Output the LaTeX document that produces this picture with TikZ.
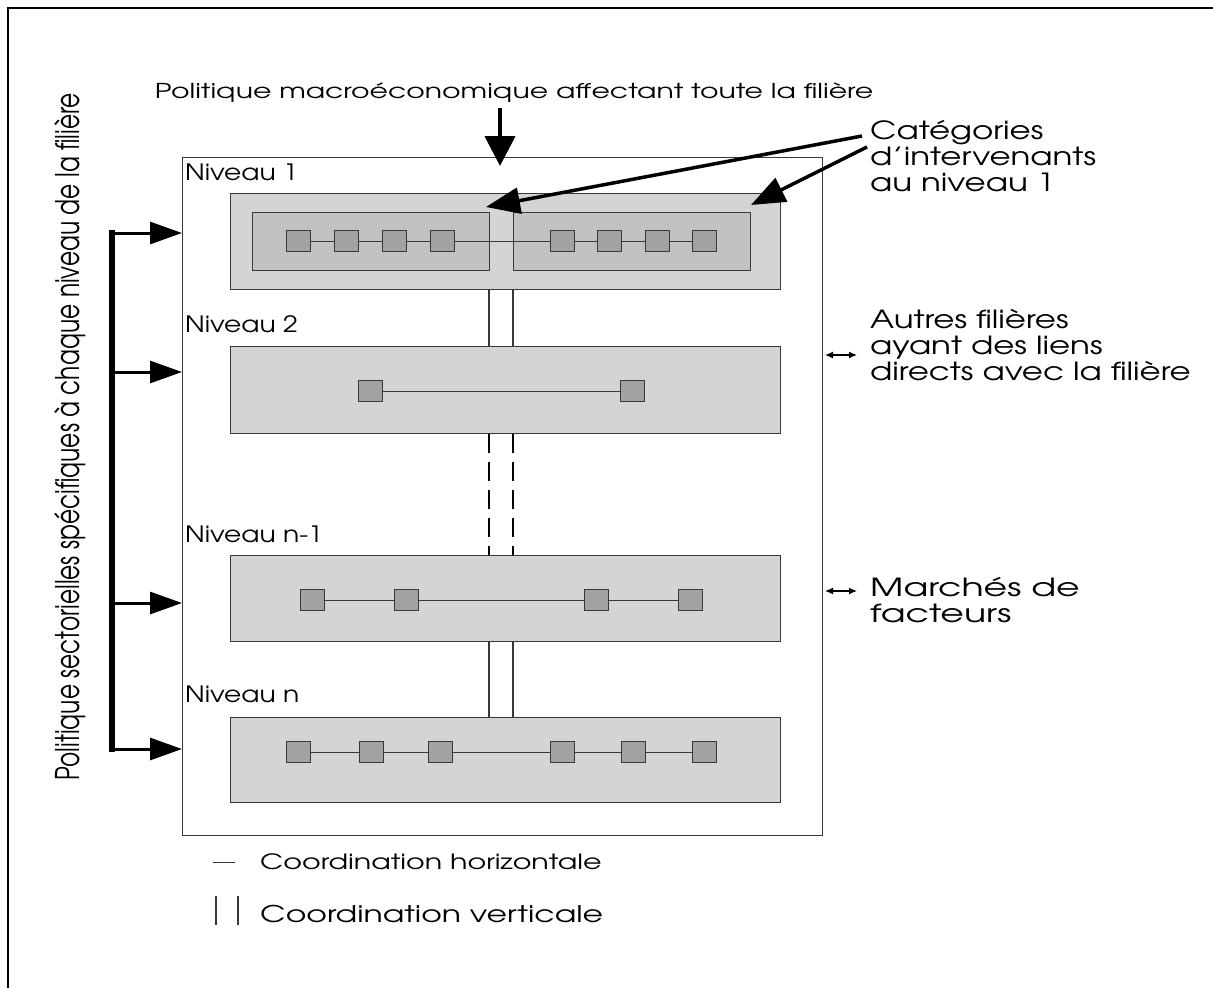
\documentclass[tikz,border=0pt]{standalone}
\usepackage{fontspec}
\setmainfont{TeX Gyre Adventor}
\usetikzlibrary{arrows.meta}
\definecolor{boxfill}{HTML}{D4D4D4}
\definecolor{innerfill}{HTML}{C2C2C2}
\definecolor{sqfill}{HTML}{A2A2A2}
\definecolor{edge}{HTML}{383838}
\newcommand{\wide}[2]{\scalebox{#1}[1]{#2}}
\begin{document}
\begin{tikzpicture}[x=1pt,y=-1pt,
  lvl/.style={draw=edge, line width=1pt, fill=boxfill, minimum width=550pt, inner sep=0pt, anchor=north west},
  inbox/.style={draw=edge, line width=1pt, fill=innerfill, minimum width=237pt, minimum height=58pt, inner sep=0pt, anchor=north west},
  sq/.style={draw=edge, line width=1pt, fill=sqfill, minimum width=24pt, minimum height=21pt, inner sep=0pt},
  hlink/.style={draw=edge, line width=0.9pt},
  vlink/.style={draw=edge, line width=1.2pt},
  vdash/.style={draw=black, line width=2.8pt, dash pattern=on 19pt off 9pt},
  lbl/.style={font=\fontsize{22.5}{24}\selectfont, anchor=west, inner sep=0pt},
  txt/.style={font=\fontsize{20.5}{22}\selectfont, inner sep=0pt},
  side/.style={font=\fontsize{25}{25}\selectfont, anchor=north west, inner sep=0pt},
  bigarr/.style={line width=4.5pt, -{Triangle[length=30pt,width=30pt]}},
  catarr/.style={line width=3.5pt, -{Triangle[length=34pt,width=26pt]}},
  polarr/.style={line width=3pt, -{Triangle[length=32pt,width=22pt]}},
  dbl/.style={line width=1.3pt, {Latex[length=8pt,width=7pt]}-{Latex[length=8pt,width=7pt]}}
]
\useasboundingbox (0,0) rectangle (1213,988);
% outer frame (top and left only)
\draw[line width=2.5pt] (8,988) -- (8,8) -- (1213,8);

% main box
\node[draw=edge, line width=1.2pt, minimum width=640pt, minimum height=678pt, inner sep=0pt, anchor=north west] (M) at (182,157) {};

% level labels
\node[lbl] (n1) at (185,172) {\wide{1.18}{Niveau 1}};
\node[lbl] (n2) at (185,324) {\wide{1.18}{Niveau 2}};
\node[lbl] (n3) at (185,534) {\wide{1.18}{Niveau n-1}};
\node[lbl] (n4) at (185,694) {\wide{1.18}{Niveau n}};

% level boxes
\node[lvl, minimum height=96pt] (L1) at (230,193) {};
\node[lvl, minimum height=87pt] (L2) at (230,346) {};
\node[lvl, minimum height=86pt] (L3) at (230,555) {};
\node[lvl, minimum height=85pt] (L4) at (230,717) {};

% inner boxes of level 1
\node[inbox] (A) at (252,212) {};
\node[inbox] (B) at (513,212) {};

% vertical coordination
\coordinate (va) at (489,0);
\coordinate (vb) at (513,0);
\draw[vlink] (L1.south -| va) -- (L2.north -| va);
\draw[vlink] (L1.south -| vb) -- (L2.north -| vb);
\draw[vdash] (L2.south -| va) -- (L3.north -| va);
\draw[vdash] (L2.south -| vb) -- (L3.north -| vb);
\draw[vlink] (L3.south -| va) -- (L4.north -| va);
\draw[vlink] (L3.south -| vb) -- (L4.north -| vb);

% squares level 1
\foreach \i/\x in {1/298,2/346,3/394,4/442,5/562,6/609,7/657,8/704}
  \node[sq] (a\i) at (\x,241) {};
\foreach \i/\j in {1/2,2/3,3/4,4/5,5/6,6/7,7/8}
  \draw[hlink] (a\i) -- (a\j);
% level 2
\node[sq] (b1) at (370,391) {};
\node[sq] (b2) at (632,391) {};
\draw[hlink] (b1) -- (b2);
% level n-1
\foreach \i/\x in {1/312,2/406,3/596,4/690}
  \node[sq] (c\i) at (\x,600) {};
\foreach \i/\j in {1/2,2/3,3/4}
  \draw[hlink] (c\i) -- (c\j);
% level n
\foreach \i/\x in {1/298,2/371,3/440,4/562,5/633,6/704}
  \node[sq] (d\i) at (\x,752) {};
\foreach \i/\j in {1/2,2/3,3/4,4/5,5/6}
  \draw[hlink] (d\i) -- (d\j);

% top text and arrow
\node[txt] (macro) at (514,93) {\wide{1.38}{Politique macroéconomique affectant toute la filière}};
\coordinate (dtop) at (500,108);
\coordinate (dtip) at (500,166);
\draw[bigarr] (dtop) -- (dtip);

% categories
\node[side] (cat) at (870,120) {\wide{1.3}{\begin{tabular}{@{}l@{}}Catégories\\d’intervenants\\au niveau 1\end{tabular}}};
\coordinate (c1s) at (862,136);
\coordinate (c2s) at (867,147);
\coordinate (t1) at (486,207);
\coordinate (t2) at (751,205);
\draw[catarr] (c1s) -- (t1);
\draw[catarr] (c2s) -- (t2);

% autres filieres
\node[side] (aut) at (870,309) {\wide{1.3}{\begin{tabular}{@{}l@{}}Autres filières\\ayant des liens\\directs avec la filière\end{tabular}}};
\coordinate (p1a) at (825,355);
\coordinate (p1b) at (857,355);
\draw[dbl] (p1a) -- (p1b);

% marches
\node[side, font=\fontsize{25}{26}\selectfont] (mar) at (870,577) {\wide{1.45}{\begin{tabular}{@{}l@{}}Marchés de\\facteurs\end{tabular}}};
\coordinate (p2a) at (825,591);
\coordinate (p2b) at (857,591);
\draw[dbl] (p2a) -- (p2b);

% left policy arrows
\coordinate (b1) at (112,233);
\coordinate (b2) at (112,372);
\coordinate (b3) at (112,603);
\coordinate (b4) at (112,749);
\draw[line width=5.5pt, line cap=rect] (b1) -- (b4);
\foreach \k in {b1,b2,b3,b4}
  \draw[polarr] (\k) -- (\k -| M.west);
\node[font=\fontsize{23.3}{25}\selectfont, inner sep=0pt, rotate=90] (pol) at (70,437) {\scalebox{1}[1.4]{Politique sectorielles spécifiques à chaque niveau de la filière}};

% legend
\coordinate (h1) at (213,862);
\coordinate (h2) at (235,862);
\draw[line width=1pt, draw=edge] (h1) -- (h2);
\node[txt, anchor=west, font=\fontsize{21}{23}\selectfont] (lh) at (260,862) {\wide{1.36}{Coordination horizontale}};
\coordinate (v1t) at (216,896);
\coordinate (v1b) at (216,925);
\coordinate (v2t) at (238,896);
\coordinate (v2b) at (238,925);
\draw[line width=1.3pt, draw=edge] (v1t) -- (v1b);
\draw[line width=1.3pt, draw=edge] (v2t) -- (v2b);
\node[txt, anchor=west, font=\fontsize{23}{25}\selectfont] (lv) at (260,914) {\wide{1.37}{Coordination verticale}};
\end{tikzpicture}
\end{document}
